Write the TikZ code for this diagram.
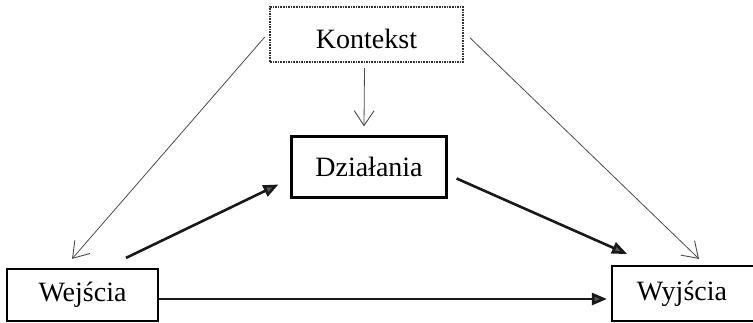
\documentclass[tikz,border=0pt]{standalone}
\usepackage{fontspec}
\setmainfont{Liberation Serif}
\usetikzlibrary{arrows.meta}
\begin{document}
\begin{tikzpicture}[x=1pt,y=-1pt,
  box/.style={draw=black, line width=2.2pt, fill=white, inner sep=0pt,
    font=\fontsize{28}{30}\selectfont},
  dotbox/.style={box, line width=2.4pt, dash pattern=on 1.6pt off 1pt, draw=black!80},
  thin arrow/.style={line width=0.8pt, draw=black!70,
    -{Straight Barb[length=15pt,width=20pt,line width=0.9pt]}},
  thick arrow/.style={line width=2.6pt, draw=black!90,
    -{Triangle[length=15pt,width=12pt,fill=black!65]}}]
\useasboundingbox (0,0) rectangle (753,322);
\fill[white] (0,0) rectangle (753,322);

\node[dotbox, minimum width=193pt, minimum height=55pt, text height=28pt] (kon) at (366.5,34.5) {Kontekst};
\node[box, minimum width=155pt, minimum height=61pt] (dzi) at (369,167) {Działania};
\node[box, minimum width=151pt, minimum height=52pt] (wej) at (82.5,295) {Wejścia};
\node[box, minimum width=146pt, minimum height=55pt] (wyj) at (685,293.5) {\hspace*{-6pt}Wyjścia};

\draw[thin arrow] ([shift={(-2,5)}]kon.south) -- ([shift={(-5,-9)}]dzi.north);
\draw[thin arrow] ([shift={(-4,2.5)}]kon.west) -- ([shift={(-10.5,-9)}]wej.north);
\draw[thin arrow] ([shift={(6,3.5)}]kon.east) -- ([shift={(14,-6)}]wyj.north);
\draw[thick arrow] ([shift={(43.5,-10)}]wej.north) -- ([shift={(-12,17.5)}]dzi.west);
\draw[thick arrow] ([shift={(9,11.5)}]dzi.east) -- ([shift={(-58,-11)}]wyj.north);
\draw[thick arrow] ([shift={(0,4)}]wej.east) -- ([shift={(-4,5.5)}]wyj.west);
\end{tikzpicture}
\end{document}
